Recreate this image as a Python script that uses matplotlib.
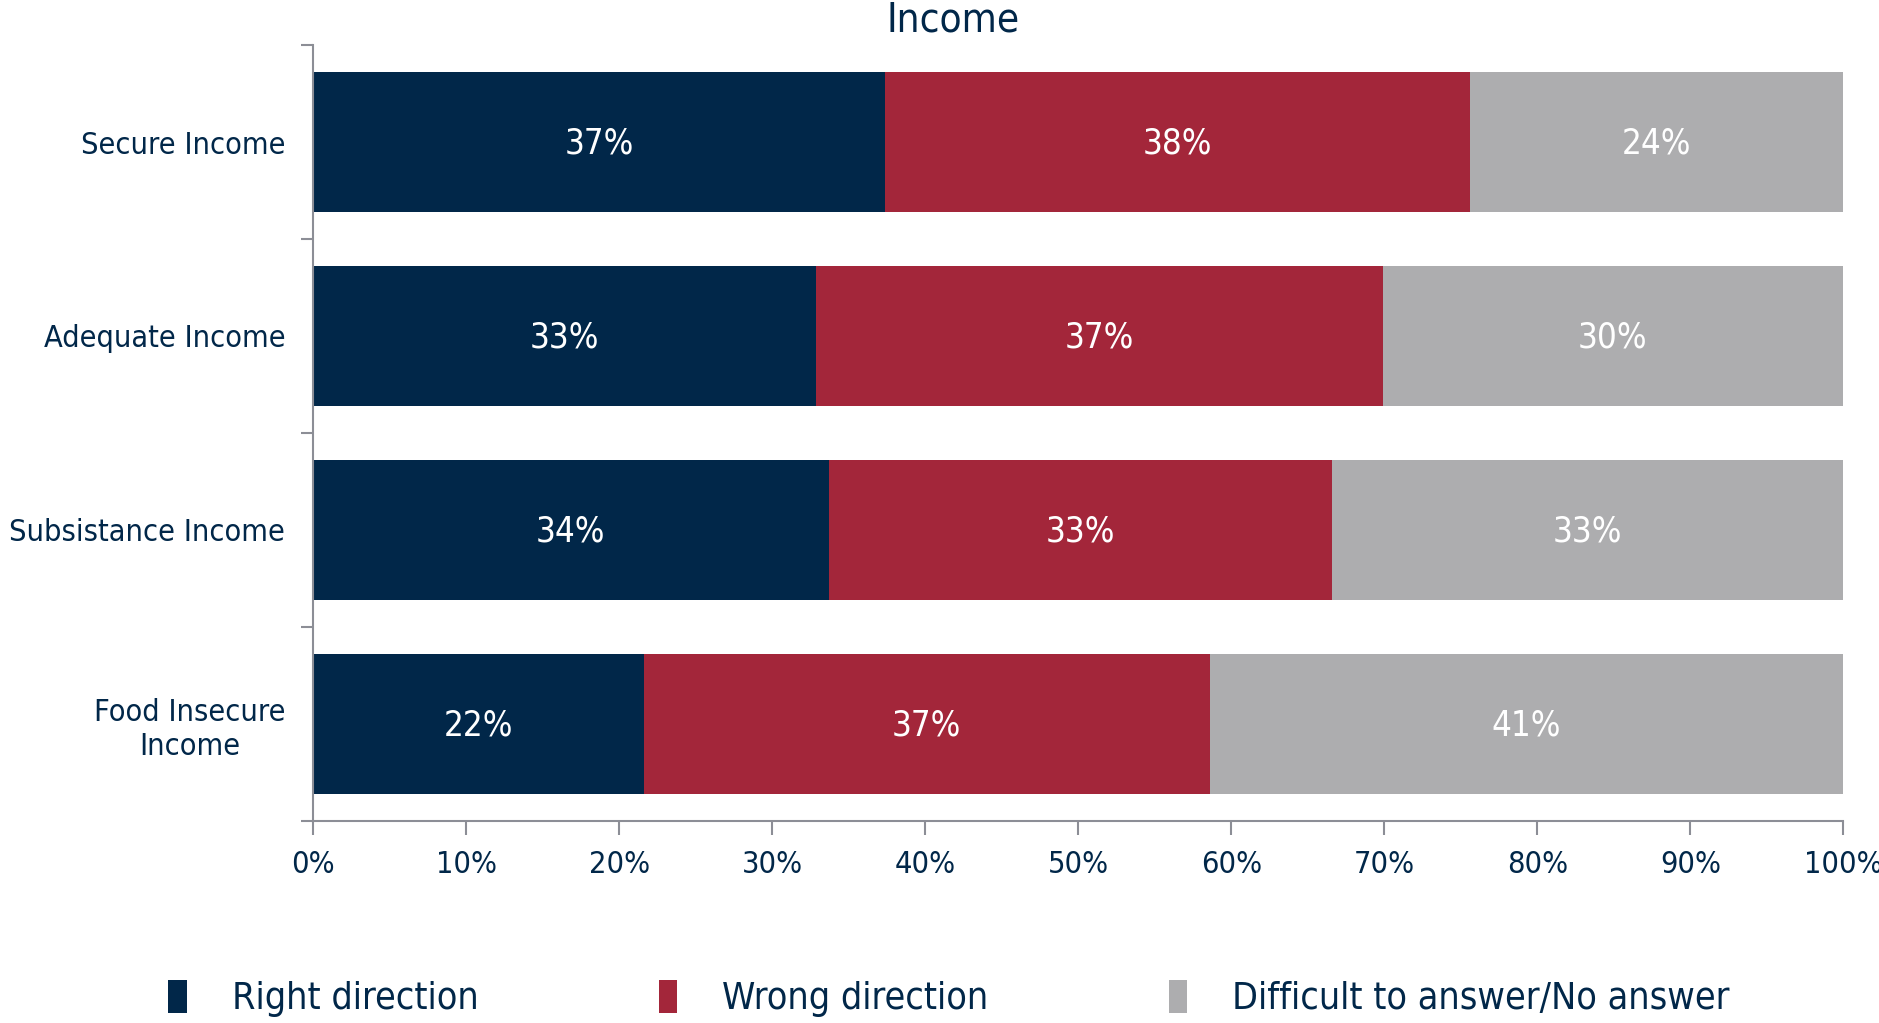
import matplotlib.pyplot as plt
import numpy as np

categories = ["Secure Income", "Adequate Income", "Subsistance Income", "Food Insecure\nIncome"]
right = [37.4, 32.9, 33.7, 21.6]
wrong = [38.2, 37.0, 32.9, 37.0]
difficult = [24.4, 30.1, 33.4, 41.4]
series_names = ["Right direction", "Wrong direction", "Difficult to answer/No answer"]
colors = ["#012749", "#A3263A", "#ADADAF"]
xticks = [0, 10, 20, 30, 40, 50, 60, 70, 80, 90, 100]

navy = "#012749"
axis_grey = "#8C8E96"
plt.rcParams["font.family"] = ["DejaVu Sans"]
plt.rcParams["font.stretch"] = "condensed"

fig = plt.figure(figsize=(18.79, 10.23), dpi=100)
ax = fig.add_axes([0.1666, 0.1975, 0.8144, 0.7585])

y = np.arange(len(categories))
left = np.zeros(len(categories))
handles = []
for vals, name, col in zip([right, wrong, difficult], series_names, colors):
    vals = np.array(vals)
    b = ax.barh(y, vals, left=left, height=0.72, color=col, label=name)
    handles.append(b)
    for yi, l, v in zip(y, left, vals):
        ax.text(l + v / 2, yi + 0.01, f"{v:.0f}%", ha="center", va="center",
                color="white", fontsize=25)
    left = left + vals

ax.set_ylim(len(categories) - 0.5, -0.5)
ax.set_xlim(0, 100)
ax.set_xticks(xticks)
ax.set_xticklabels([f"{t}%" for t in xticks], fontsize=22, color=navy)
ax.set_yticks(y)
ax.set_yticklabels(categories, fontsize=22, color=navy, multialignment="center")
ax.set_yticks(np.arange(-0.5, len(categories), 1), minor=True)
ax.tick_params(axis="y", which="major", length=0, pad=20)
ax.tick_params(axis="y", which="minor", length=9, width=1.5, color=axis_grey)
ax.tick_params(axis="x", length=10, width=1.5, color=axis_grey, pad=11)
for s in ["top", "right"]:
    ax.spines[s].set_visible(False)
for s in ["left", "bottom"]:
    ax.spines[s].set_color(axis_grey)
    ax.spines[s].set_linewidth(1.5)

fig.text(0.507, 0.98, "Income", ha="center", va="center", fontsize=29, color=navy)

fig.legend(handles=handles, loc="center", bbox_to_anchor=(0.505, 0.024), ncol=3,
           frameon=False, fontsize=27, labelcolor=navy, handlelength=0.5,
           handleheight=1.0, handletextpad=1.2, columnspacing=4.8)

fig.savefig("out.png", dpi=100)
